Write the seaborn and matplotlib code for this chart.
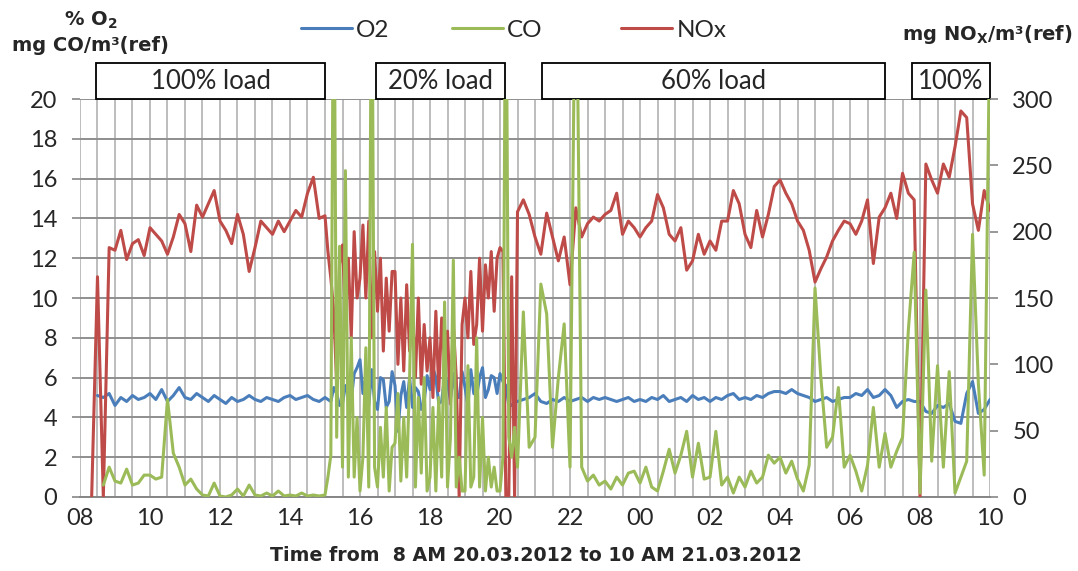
import numpy as np
import pandas as pd
import matplotlib
matplotlib.use("Agg")
import matplotlib.pyplot as plt
import matplotlib.transforms as mtransforms
from matplotlib.patches import Rectangle
from matplotlib.ticker import MultipleLocator
import seaborn as sns

nan = np.nan

# hours after 08:00 (20.03.2012): 10 min readings, 5 min readings through the 20% load period
hours = np.concatenate([np.arange(2, 42) / 6,      # 08:20 - 14:50
                        np.arange(84, 150) / 12,   # 15:00 - 20:25
                        np.arange(75, 157) / 6])   # 20:30 - 10:00 next day

# % O2
o2 = [
    nan, 5.1, 5.0, 5.2,
    4.6, 5.0, 4.8, 5.1, 4.9, 5.0,  # 09
    5.2, 4.9, 5.4, 4.8, 5.1, 5.5,  # 10
    5.0, 4.9, 5.2, 5.0, 4.8, 5.1,  # 11
    4.9, 4.7, 5.0, 4.8, 4.9, 5.1,  # 12
    4.9, 4.8, 5.0, 4.9, 4.8, 5.0,  # 13
    5.1, 4.9, 5.0, 5.1, 4.9, 4.8,  # 14
    5.0, 4.9, 4.8, 5.5, 5.2, 4.6, 4.7, 5.6, 5.4, 4.9, 6.2, 6.5,  # 15 (5 min)
    6.9, 5.2, 6.0, 4.6, 6.4, 4.8, 4.4, 6.0, 5.9, 4.5, 4.8, 6.3,  # 16
    5.6, 3.3, 5.1, 5.8, 4.5, 6.0, 4.5, 5.5, 5.3, 4.4, 4.8, 6.1,  # 17
    5.4, 6.5, 6.0, 4.7, 4.8, 6.1, 5.7, 4.9, 6.2, 5.0, 5.0, 6.3,  # 18
    5.5, 4.6, 6.4, 5.2, 5.1, 6.0, 6.5, 5.0, 5.4, 6.1, 6.0, 5.2,  # 19
    6.2, 5.8, 5.6, 4.6, 4.6, 4.8,                                # 20:00-20:25
    4.8, 4.9, 5.0,                 # 20:30-20:50
    5.2, 4.8, 4.7, 4.9, 4.8, 5.0,  # 21
    4.8, 4.9, 5.0, 4.8, 5.0, 4.9,  # 22
    5.0, 4.9, 4.8, 4.9, 5.0, 4.8,  # 23
    4.9, 4.8, 5.0, 4.9, 5.1, 4.8,  # 00
    4.9, 5.0, 4.8, 5.1, 4.9, 5.0,  # 01
    4.8, 5.0, 4.9, 5.1, 5.2, 4.9,  # 02
    5.0, 4.9, 5.1, 5.0, 5.2, 5.3,  # 03
    5.3, 5.2, 5.4, 5.2, 5.1, 5.0,  # 04
    4.8, 4.9, 5.0, 4.8, 4.9, 5.0,  # 05
    5.0, 5.2, 5.1, 5.4, 5.0, 5.1,  # 06
    5.4, 5.1, 4.5, 4.8, 4.9, 4.8,  # 07
    4.8, 4.3, 4.2, 4.6, 4.5, 4.7,  # 08
    3.8, 3.7, 5.2, 5.8, 4.2, 4.4,  # 09
    4.9,
]

# mg CO/m3 (ref), values above 20 run off the top of the chart
co = [
    nan, nan, 0.6, 1.5,
    0.8, 0.7, 1.4, 0.6, 0.7, 1.1,     # 09
    1.1, 0.9, 1.0, 4.9, 2.2, 1.5,     # 10
    0.6, 0.9, 0.4, 0.1, 0.05, 0.7,    # 11
    0.05, 0.0, 0.1, 0.4, 0.05, 0.6,   # 12
    0.1, 0.05, 0.2, 0.05, 0.3, 0.05,  # 13
    0.1, 0.05, 0.2, 0.05, 0.1, 0.05,  # 14
    0.1, 1.0, 2.1, 30, 3.0, 12.6, 1.5, 16.4, 1.0, 8.0, 1.0, 4.0,   # 15 (5 min)
    0.3, 2.0, 7.5, 0.5, 30, 1.5, 0.5, 3.5, 1.0, 4.5, 0.3, 2.5,     # 16
    2.7, 5.2, 0.8, 4.0, 1.0, 6.0, 12.7, 0.5, 5.0, 1.2, 6.0, 0.3,   # 17
    1.0, 4.5, 0.3, 5.0, 1.0, 9.8, 0.5, 3.0, 11.9, 0.5, 2.0, 0.3,   # 18
    0.3, 6.6, 0.5, 1.0, 8.0, 0.5, 4.0, 0.3, 2.0, 0.5, 1.5, 0.3,    # 19
    0.3, 2.0, 30, 3.0, 2.0, 3.5,                                   # 20:00-20:25
    1.5, 9.3, 2.5,                    # 20:30-20:50
    3.0, 10.7, 9.2, 2.5, 6.0, 8.7,    # 21
    1.5, 30, 1.5, 0.8, 1.1, 0.6,      # 22
    0.8, 0.4, 1.0, 0.6, 1.2, 1.3,     # 23
    0.7, 1.5, 0.5, 0.3, 1.3, 2.4,     # 00
    1.2, 2.1, 3.3, 1.0, 2.7, 0.9,     # 01
    1.0, 3.3, 0.6, 1.0, 0.2, 1.0,     # 02
    0.5, 1.3, 0.7, 1.0, 2.1, 1.7,     # 03
    2.0, 1.2, 1.8, 0.9, 0.3, 1.6,     # 04
    10.5, 6.0, 2.5, 3.0, 5.5, 1.5,    # 05
    2.1, 1.3, 0.3, 1.6, 4.5, 1.5,     # 06
    3.2, 1.5, 2.3, 3.0, 8.4, 12.3,    # 07
    0.2, 10.4, 1.8, 6.6, 1.5, 6.3,    # 08
    0.2, 1.0, 1.8, 13.2, 5.7, 1.1,    # 09
    25,
]

# mg NOx/m3 (ref), right axis
nox = [
    0, 166, 0, 188,
    186, 201, 179, 191, 194, 182,  # 09
    203, 198, 193, 183, 196, 213,  # 10
    206, 185, 220, 211, 221, 231,  # 11
    208, 201, 191, 213, 198, 170,  # 12
    188, 208, 203, 198, 208, 200,  # 13
    208, 216, 211, 229, 241, 210,  # 14
    212, 185, 165, 140, 85, 175, 190, 135, 180, 120, 200, 150,   # 15 (5 min)
    165, 205, 150, 208, 120, 185, 140, 180, 110, 165, 125, 170,  # 16
    170, 100, 150, 95, 160, 110, 140, 90, 150, 85, 130, 95,      # 17
    120, 75, 140, 80, 135, 100, 125, 70, 130, 90, 0, 130,        # 18
    150, 120, 170, 115, 130, 180, 125, 175, 150, 185, 140, 180,  # 19
    188, 185, 0, 0, 166, 0,                                      # 20:00-20:25
    215, 224, 213,                 # 20:30-20:50
    196, 183, 214, 196, 178, 196,  # 21
    160, 218, 196, 206, 211, 208,  # 22
    213, 216, 229, 198, 208, 203,  # 23
    196, 203, 208, 228, 218, 198,  # 00
    193, 203, 171, 178, 198, 183,  # 01
    193, 186, 208, 208, 231, 221,  # 02
    198, 188, 216, 196, 213, 234,  # 03
    239, 229, 221, 208, 201, 186,  # 04
    162, 172, 181, 193, 201, 208,  # 05
    206, 198, 208, 224, 176, 211,  # 06
    218, 229, 210, 244, 229, 224,  # 07
    0, 251, 239, 229, 251, 241,    # 08
    264, 291, 286, 221, 201, 231,  # 09
    216,
]

tick_labels = ['08', '10', '12', '14', '16', '18', '20', '22', '00', '02', '04', '06', '08', '10']
loads = [('100% load', 0.47, 6.99), ('20% load', 8.47, 12.13), ('60% load', 13.21, 22.99), ('100%', 23.76, 26.0)]

df = pd.DataFrame({'hours': hours, 'O2': o2, 'CO': co, 'NOx': nox})

sns.set_style("white")
plt.rcParams['font.family'] = ['Lato', 'DejaVu Sans']

c_o2, c_co, c_nox = '#4A7EBB', '#9BBB59', '#BE4B48'
grid_h, grid_v, axis_c = '#8E8E8E', '#BDBDBD', '#868686'

fig = plt.figure(figsize=(10.78, 5.71), dpi=100)
ax = fig.add_axes([0.0742, 0.1296, 0.9184 - 0.0742, 0.8266 - 0.1296])
ax2 = ax.twinx()
ax3 = ax.twinx()

sns.lineplot(data=df, x='hours', y='O2', ax=ax, color=c_o2, lw=2.2, errorbar=None)
sns.lineplot(data=df, x='hours', y='NOx', ax=ax2, color=c_nox, lw=2.2, errorbar=None)
sns.lineplot(data=df, x='hours', y='CO', ax=ax3, color=c_co, lw=2.2, errorbar=None)

ax.set_xlim(0, 26)
ax.set_ylim(0, 20)
ax2.set_ylim(0, 300)
ax3.set_ylim(0, 20)

ax.set_xticks(np.arange(0, 27, 2))
ax.set_xticklabels(tick_labels)
ax.xaxis.set_minor_locator(MultipleLocator(0.5))
ax.set_yticks(np.arange(0, 21, 2))
ax2.set_yticks(np.arange(0, 301, 50))

ax.xaxis.grid(True, which='both', color=grid_v, lw=1.4)
ax.yaxis.grid(True, which='major', color=grid_h, lw=1.4)
ax.set_axisbelow(True)

ax.tick_params(axis='x', which='major', direction='out', length=5, color=axis_c, width=1.2,
               labelsize=17, pad=3)
ax.tick_params(axis='x', which='minor', length=0)
ax.tick_params(axis='y', direction='out', length=6, color=axis_c, width=1.2, labelsize=17, pad=10.5)
ax2.tick_params(axis='y', direction='out', length=6, color=axis_c, width=1.2, labelsize=17, pad=10)
ax3.set_yticks([])

for a in (ax, ax2, ax3):
    a.set_xlabel('')
    a.set_ylabel('')
    for s in a.spines.values():
        s.set_visible(False)
ax.spines['bottom'].set_visible(True)
ax.spines['bottom'].set_color(axis_c)
ax.spines['bottom'].set_linewidth(1.4)

# load boxes above the plot
trans = mtransforms.blended_transform_factory(ax.transData, ax.transAxes)
for text, x0, x1 in loads:
    ax.add_patch(Rectangle((x0, 1.0), x1 - x0, 0.09, transform=trans, clip_on=False,
                           facecolor='white', edgecolor='black', lw=1.3))
    ax.text((x0 + x1) / 2, 1.045, text, transform=trans, ha='center', va='center', fontsize=18.5)

# axis titles
bold = dict(family='DejaVu Sans', fontweight='bold', fontsize=14)
fig.text(0.084, 0.965, r'% O$_\mathbf{2}$', ha='center', va='center', **bold)
fig.text(0.084, 0.921, 'mg CO/m³(ref)', ha='center', va='center', **bold)
fig.text(0.916, 0.940, r'mg NO$_\mathbf{X}$/m³(ref)', ha='center', va='center', **bold)
fig.text(0.497, 0.028, 'Time from  8 AM 20.03.2012 to 10 AM 21.03.2012', ha='center', va='center',
         family='DejaVu Sans', fontweight='bold', fontsize=13.7)

# legend: one fixed-width cell per series, as in the original spreadsheet chart
entries = [(ax.lines[0], 'O2', 0.279), (ax3.lines[0], 'CO', 0.419), (ax2.lines[0], 'NOx', 0.576)]
for handle, label, x_left in entries:
    fig.legend([handle], [label], loc='center left', bbox_to_anchor=(x_left, 0.947),
               frameon=False, fontsize=17.5, handlelength=2.1, handletextpad=0.18,
               borderpad=0, borderaxespad=0)

plt.savefig('out.png', dpi=100)
plt.close()
